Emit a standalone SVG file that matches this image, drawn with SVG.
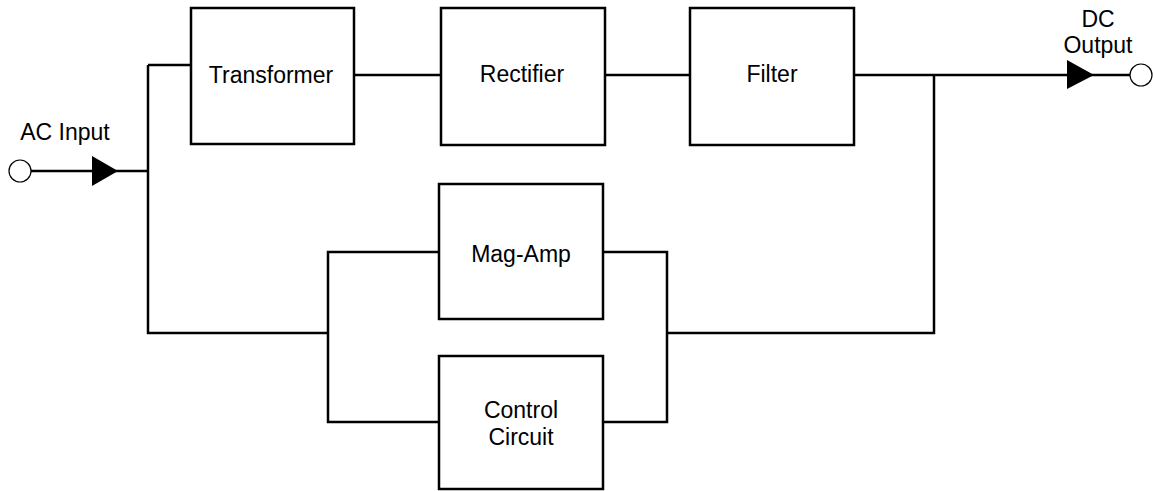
<svg xmlns="http://www.w3.org/2000/svg" width="1153" height="491" viewBox="0 0 1153 491">
<style>
.box{fill:#fff;stroke:#000;stroke-width:2.5}
.ln{fill:none;stroke:#000;stroke-width:2.5}
.t{font-family:"Liberation Sans",Arial,sans-serif;font-size:23px;fill:#000;text-anchor:middle}
.term{fill:#fff;stroke:#000;stroke-width:1.2}
.arr{fill:#000}
</style>
<rect width="1153" height="491" fill="#fff"/>
<g id="connectors">
<path class="ln" d="M31,171 H148"/>
<path class="ln" d="M148,65 H191 M148,65 V333 H328"/>
<path class="ln" d="M354,75 H441"/>
<path class="ln" d="M605,75 H690"/>
<path class="ln" d="M854,75 H1130"/>
<path class="ln" d="M439,252 H328 V422 H439"/>
<path class="ln" d="M603,252 H667 V422 H603"/>
<path class="ln" d="M667,333 H934 V75"/>
<polygon class="arr" points="92,156 118,171 92,186"/>
<polygon class="arr" points="1067,60 1094,75 1067,89"/>
</g>
<g id="ac-input">
<circle class="term" cx="20" cy="171" r="11"/>
<text class="t" x="65" y="140">AC Input</text>
</g>
<g id="dc-output">
<circle class="term" cx="1141" cy="75" r="11"/>
<text class="t" x="1098" y="27">DC</text>
<text class="t" x="1098" y="53">Output</text>
</g>
<g id="transformer">
<rect class="box" x="191" y="8" width="163" height="136"/>
<text class="t" x="271" y="83">Transformer</text>
</g>
<g id="rectifier">
<rect class="box" x="441" y="8" width="164" height="137"/>
<text class="t" x="522" y="82">Rectifier</text>
</g>
<g id="filter">
<rect class="box" x="690" y="8" width="164" height="137"/>
<text class="t" x="772" y="82">Filter</text>
</g>
<g id="mag-amp">
<rect class="box" x="439" y="184" width="164" height="135"/>
<text class="t" x="521" y="262">Mag-Amp</text>
</g>
<g id="control-circuit">
<rect class="box" x="439" y="356" width="164" height="133"/>
<text class="t" x="521" y="418">Control</text>
<text class="t" x="521" y="445">Circuit</text>
</g>
</svg>
